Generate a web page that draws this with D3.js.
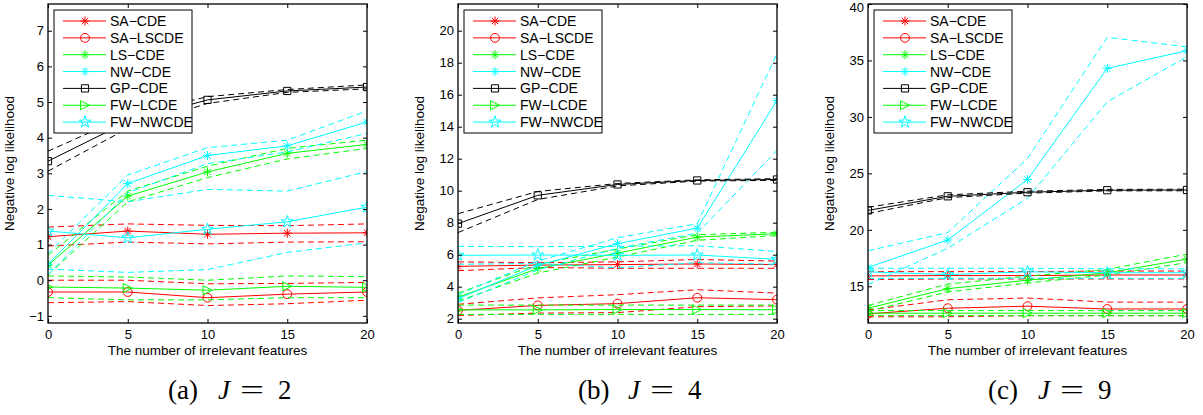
<!DOCTYPE html>
<html>
<head>
<meta charset="utf-8">
<script src="https://cdn.jsdelivr.net/npm/d3@7"></script>
<style>
  body { margin: 0; background: #fff; }
  svg { display: block; }
  text { font-family: "Liberation Sans", Arial, sans-serif; fill: #000; }
</style>
</head>
<body>
<div id="chart"></div>
<script>
const xs = [0, 5, 10, 15, 20];
const methods = ["SA−CDE", "SA−LSCDE", "LS−CDE", "NW−CDE", "GP−CDE", "FW−LCDE", "FW−NWCDE"];
const colors = ["#ff0000", "#ff0000", "#00ff00", "#00ffff", "#000000", "#00ff00", "#00ffff"];
const markers = ["asterisk", "circle", "asterisk", "asterisk", "square", "triangle", "star"];

// J = 2 (mean, upper and lower dashed bounds per method)
const meanJ2 = [
    [1.22, 1.38, 1.29, 1.32, 1.33],
    [-0.33, -0.33, -0.49, -0.39, -0.33],
    [0.42, 2.36, 3.04, 3.56, 3.81],
    [0.45, 2.71, 3.5, 3.77, 4.44],
    [3.34, 4.45, 5.06, 5.31, 5.42],
    [-0.19, -0.22, -0.28, -0.17, -0.2],
    [1.38, 1.19, 1.43, 1.64, 2.05]
];
const upperJ2 = [
    [1.49, 1.58, 1.54, 1.53, 1.58],
    [0.0, 0.0, -0.1, -0.09, -0.06],
    [0.7, 2.5, 3.2, 3.7, 3.93],
    [0.75, 2.95, 3.72, 3.93, 4.75],
    [3.62, 4.62, 5.15, 5.35, 5.48],
    [0.12, 0.09, 0.0, 0.12, 0.1],
    [2.38, 2.2, 2.55, 2.5, 3.05]
];
const lowerJ2 = [
    [0.96, 1.07, 1.02, 1.07, 1.08],
    [-0.63, -0.6, -0.71, -0.66, -0.56],
    [0.15, 2.2, 2.88, 3.4, 3.7],
    [0.15, 2.45, 3.27, 3.6, 4.12],
    [3.06, 4.26, 4.96, 5.27, 5.37],
    [-0.49, -0.55, -0.55, -0.49, -0.49],
    [0.31, 0.22, 0.3, 0.78, 1.05]
];

// J = 4
const meanJ4 = [
    [5.27, 5.35, 5.38, 5.42, 5.38],
    [2.52, 2.83, 2.94, 3.31, 3.19],
    [3.35, 5.13, 6.1, 7.1, 7.31],
    [3.25, 5.33, 6.69, 7.66, 15.64],
    [7.94, 9.71, 10.39, 10.64, 10.7],
    [2.55, 2.55, 2.57, 2.57, 2.56],
    [5.96, 5.98, 5.96, 5.98, 5.71]
];
const upperJ4 = [
    [5.55, 5.5, 5.55, 5.7, 5.6],
    [2.9, 3.3, 3.5, 3.81, 3.6],
    [3.6, 5.4, 6.35, 7.25, 7.4],
    [3.5, 5.6, 7.06, 7.94, 18.56],
    [8.56, 9.95, 10.45, 10.68, 10.75],
    [2.85, 2.85, 2.85, 2.85, 2.85],
    [6.52, 6.5, 6.52, 6.56, 6.2]
];
const lowerJ4 = [
    [5.0, 5.2, 5.15, 5.15, 5.15],
    [2.2, 2.35, 2.38, 2.75, 2.8],
    [3.1, 4.85, 5.85, 6.9, 7.2],
    [3.0, 5.05, 6.4, 7.35, 12.52],
    [7.38, 9.45, 10.3, 10.6, 10.65],
    [2.27, 2.27, 2.27, 2.27, 2.27],
    [5.4, 5.45, 5.19, 5.5, 5.4]
];

// J = 9
const meanJ9 = [
    [15.92, 15.95, 15.95, 16.0, 16.0],
    [12.56, 13.06, 13.24, 12.99, 12.99],
    [13.06, 14.79, 15.54, 16.2, 17.41],
    [16.67, 19.1, 24.46, 34.3, 35.86],
    [21.72, 22.97, 23.33, 23.51, 23.53],
    [12.62, 12.62, 12.62, 12.62, 12.62],
    [16.28, 16.04, 16.28, 16.2, 16.2]
];
const upperJ9 = [
    [16.3, 16.3, 16.3, 16.35, 16.35],
    [12.9, 13.81, 13.96, 13.6, 13.6],
    [13.3, 15.2, 15.9, 16.5, 17.85],
    [18.15, 19.76, 26.32, 37.05, 36.2],
    [22.0, 23.1, 23.42, 23.58, 23.6],
    [12.85, 12.85, 12.85, 12.85, 12.85],
    [16.6, 16.6, 16.6, 16.55, 16.55]
];
const lowerJ9 = [
    [15.6, 15.65, 15.65, 15.65, 15.65],
    [12.3, 12.3, 12.4, 12.4, 12.4],
    [12.8, 14.5, 15.3, 16.0, 17.1],
    [15.15, 18.37, 22.8, 31.34, 35.33],
    [21.45, 22.85, 23.25, 23.45, 23.46],
    [12.4, 12.4, 12.4, 12.4, 12.4],
    [15.7, 15.7, 15.72, 15.7, 15.7]
];

const ticksJ2 = [-1, 0, 1, 2, 3, 4, 5, 6, 7];
const ticksJ4 = [2, 4, 6, 8, 10, 12, 14, 16, 18, 20];
const ticksJ9 = [15, 20, 25, 30, 35, 40];

const panels = [
    {mean: meanJ2, upper: upperJ2, lower: lowerJ2, ticks: ticksJ2, domain: [-1.2, 7.75], left: 48, tag: "(a)", J: "2"},
    {mean: meanJ4, upper: upperJ4, lower: lowerJ4, ticks: ticksJ4, domain: [1.73, 21.67], left: 458, tag: "(b)", J: "4"},
    {mean: meanJ9, upper: upperJ9, lower: lowerJ9, ticks: ticksJ9, domain: [11.75, 40], left: 868, tag: "(c)", J: "9"}
];

const W = 1203, H = 415;
const pw = 319, plotTop = 4, plotBottom = 323;

const svg = d3.select("#chart").append("svg")
    .attr("width", W)
    .attr("height", H);

// Marker shapes (MATLAB style)
function markerPath(type) {
    const r = 4.5;
    if (type === "asterisk") {
        const a = r * 0.72;
        return `M${-r},0H${r}M0,${-r}V${r}M${-a},${-a}L${a},${a}M${-a},${a}L${a},${-a}`;
    }
    if (type === "circle") return d3.symbol(d3.symbolCircle, 62)();
    if (type === "square") return d3.symbol(d3.symbolSquare, 52)();
    if (type === "triangle") return `M${r},0L${-r},${-r}L${-r},${r}Z`;
    return d3.symbol(d3.symbolStar, 45)();
}

panels.forEach((p, pi) => {
    const x = d3.scaleLinear().domain([0, 20]).range([p.left, p.left + pw]);
    const y = d3.scaleLinear().domain(p.domain).range([plotBottom, plotTop]);
    const g = svg.append("g");

    const clipId = "clip" + pi;
    svg.append("clipPath").attr("id", clipId)
        .append("rect")
        .attr("x", p.left).attr("y", plotTop)
        .attr("width", pw).attr("height", plotBottom - plotTop);

    const plot = g.append("g").attr("clip-path", `url(#${clipId})`);
    const line = d3.line().x((d, i) => x(xs[i])).y(d => y(d));

    methods.forEach((m, si) => {
        [p.upper[si], p.lower[si]].forEach(band => {
            plot.append("path")
                .attr("d", line(band))
                .attr("fill", "none")
                .attr("stroke", colors[si])
                .attr("stroke-width", 1)
                .attr("stroke-dasharray", "6,4");
        });
        plot.append("path")
            .attr("d", line(p.mean[si]))
            .attr("fill", "none")
            .attr("stroke", colors[si])
            .attr("stroke-width", 1);
        plot.selectAll(null)
            .data(p.mean[si])
            .enter()
            .append("path")
            .attr("transform", (d, i) => `translate(${x(xs[i])},${y(d)})`)
            .attr("d", markerPath(markers[si]))
            .attr("fill", "none")
            .attr("stroke", colors[si])
            .attr("stroke-width", 1);
    });

    // Axes box with inward ticks on all sides
    const fmt = v => String(v).replace("-", "−");
    g.append("g")
        .attr("transform", `translate(0,${plotBottom})`)
        .call(d3.axisBottom(x).tickValues(xs).tickSizeInner(-4).tickSizeOuter(0).tickPadding(7).tickFormat(fmt));
    g.append("g")
        .attr("transform", `translate(0,${plotTop})`)
        .call(d3.axisTop(x).tickValues(xs).tickSizeInner(-4).tickSizeOuter(0).tickFormat(""));
    const yAxis = g.append("g")
        .attr("transform", `translate(${p.left},0)`)
        .call(d3.axisLeft(y).tickValues(p.ticks).tickSizeInner(-4).tickSizeOuter(0).tickPadding(4).tickFormat(fmt));
    // keep a label sitting on the top edge inside the page
    yAxis.selectAll(".tick text").attr("y", d => y(d) < 8 ? 3 : 0);
    g.append("g")
        .attr("transform", `translate(${p.left + pw},0)`)
        .call(d3.axisRight(y).tickValues(p.ticks).tickSizeInner(-4).tickSizeOuter(0).tickFormat(""));
    g.selectAll(".domain").remove();
    g.selectAll(".tick line").attr("stroke", "#000");
    g.selectAll(".tick text")
        .style("font-family", '"Liberation Sans", Arial, sans-serif')
        .style("font-size", "13px")
        .attr("fill", "#000");
    g.append("rect")
        .attr("x", p.left).attr("y", plotTop)
        .attr("width", pw).attr("height", plotBottom - plotTop)
        .attr("fill", "none")
        .attr("stroke", "#000")
        .attr("stroke-width", 1.3);

    // Axis labels
    g.append("text")
        .attr("x", p.left + pw / 2)
        .attr("y", 355)
        .attr("text-anchor", "middle")
        .attr("font-size", "13.5px")
        .text("The number of irrelevant features");
    g.append("text")
        .attr("transform", `translate(${p.left - 34},${(plotTop + plotBottom) / 2}) rotate(-90)`)
        .attr("text-anchor", "middle")
        .attr("font-size", "13.5px")
        .text("Negative log likelihood");

    // Legend
    const lg = g.append("g").attr("transform", `translate(${p.left + 6},10)`);
    lg.append("rect")
        .attr("width", 138).attr("height", 123)
        .attr("fill", "#fff")
        .attr("stroke", "#000")
        .attr("stroke-width", 1);
    methods.forEach((m, si) => {
        const row = lg.append("g").attr("transform", `translate(0,${11 + si * 16.85})`);
        row.append("line")
            .attr("x1", 9).attr("x2", 52)
            .attr("stroke", colors[si]).attr("stroke-width", 1);
        row.append("path")
            .attr("transform", "translate(31,0)")
            .attr("d", markerPath(markers[si]))
            .attr("fill", "none")
            .attr("stroke", colors[si]);
        row.append("text")
            .attr("x", 56).attr("y", 5)
            .attr("font-size", "14px")
            .text(m);
    });

    // Caption
    const cap = g.append("g").attr("transform", `translate(${p.left + 120},399)`)
        .style("font-family", '"Liberation Serif", "Times New Roman", serif')
        .style("font-size", "27px");
    cap.append("text").attr("x", 0).style("font-family", "inherit").text(p.tag);
    cap.append("text").attr("x", 50).style("font-family", "inherit").style("font-style", "italic").text("J");
    cap.append("text").attr("x", 72).attr("textLength", 24).attr("lengthAdjust", "spacingAndGlyphs")
        .style("font-family", "inherit").text("=");
    cap.append("text").attr("x", 110).style("font-family", "inherit").text(p.J);
});
</script>
</body>
</html>
